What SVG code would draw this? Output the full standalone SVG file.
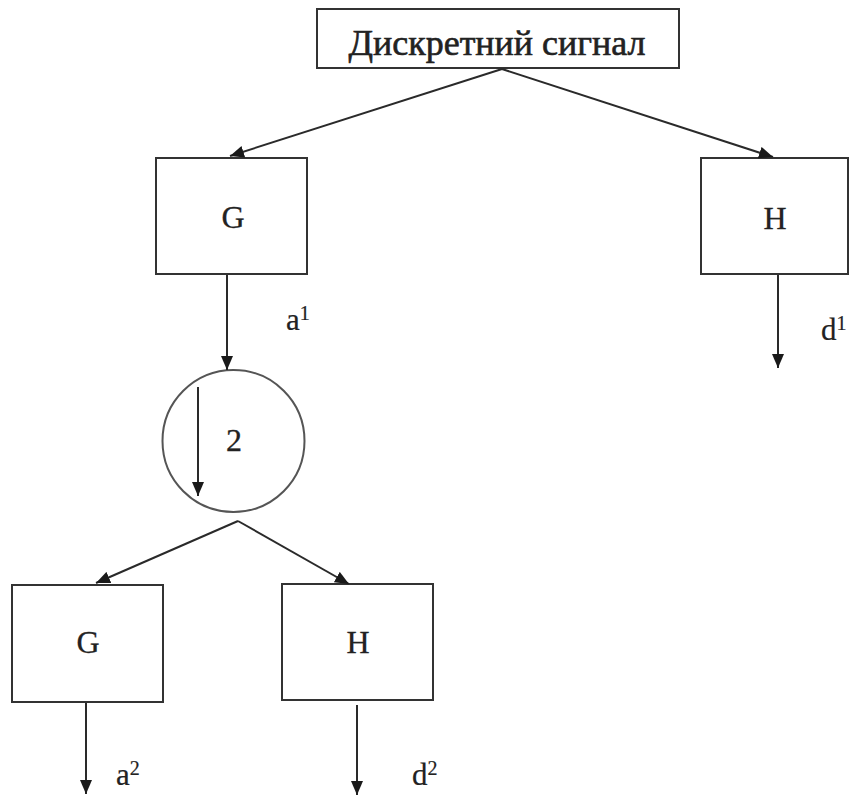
<svg xmlns="http://www.w3.org/2000/svg" width="850" height="796" viewBox="0 0 850 796">
  <defs>
    <marker id="arrow" markerWidth="14" markerHeight="12" refX="14" refY="6" orient="auto" markerUnits="userSpaceOnUse">
      <path d="M0,0 L14,6 L0,12 Z" fill="#1a1a1a"/>
    </marker>
    <style>
      .box { fill: #fff; stroke: #333; stroke-width: 2; }
      .ring { fill: #fff; stroke: #555; stroke-width: 2; }
      .edge { fill: none; stroke: #2a2a2a; stroke-width: 2; marker-end: url(#arrow); }
      .label { font-family: "Liberation Serif", "Times New Roman", serif; fill: #222; text-anchor: middle; }
      .big { font-size: 32px; stroke: #222; stroke-width: 0.3; }
      .title { font-size: 36px; stroke: #222; stroke-width: 0.6; }
      .side { font-family: "Liberation Serif", "Times New Roman", serif; fill: #222; font-size: 31px; stroke: #222; stroke-width: 0.2; }
      .sup { font-size: 20px; }
    </style>
  </defs>
  <rect width="850" height="796" fill="#fff"/>

  <!-- source -->
  <g id="signal">
    <rect class="box" x="317" y="9" width="362" height="59"/>
    <text class="label title" x="497" y="55" textLength="297" lengthAdjust="spacingAndGlyphs">Дискретний сигнал</text>
  </g>

  <!-- level 1 -->
  <g id="g1">
    <rect class="box" x="156" y="158" width="151" height="116"/>
    <text class="label big" x="233" y="228">G</text>
  </g>
  <g id="h1">
    <rect class="box" x="701" y="158" width="147" height="116"/>
    <text class="label big" x="775" y="229">H</text>
  </g>
  <g id="a1-label">
    <text class="side" x="286" y="330">a<tspan class="sup" dy="-10">1</tspan></text>
  </g>
  <g id="d1-label">
    <text class="side" x="821" y="340">d<tspan class="sup" dy="-10">1</tspan></text>
  </g>

  <!-- downsampler -->
  <g id="down2">
    <circle class="ring" cx="233.5" cy="441" r="71"/>
    <text class="label big" x="234" y="451">2</text>
  </g>

  <!-- level 2 -->
  <g id="g2">
    <rect class="box" x="12" y="585" width="151" height="117"/>
    <text class="label big" x="88" y="653">G</text>
  </g>
  <g id="h2">
    <rect class="box" x="282" y="584" width="151" height="116"/>
    <text class="label big" x="358" y="653">H</text>
  </g>
  <g id="a2-label">
    <text class="side" x="116" y="785">a<tspan class="sup" dy="-10">2</tspan></text>
  </g>
  <g id="d2-label">
    <text class="side" x="412" y="785">d<tspan class="sup" dy="-10">2</tspan></text>
  </g>

  <!-- connectors -->
  <g id="connectors">
    <line class="edge" x1="502" y1="69" x2="230" y2="156"/>
    <line class="edge" x1="502" y1="69" x2="773" y2="157"/>
    <line class="edge" x1="227" y1="275" x2="227" y2="370"/>
    <line class="edge" x1="778" y1="275" x2="778" y2="368"/>
    <line class="edge" x1="198" y1="387" x2="198" y2="496"/>
    <line class="edge" x1="238" y1="521" x2="96" y2="583"/>
    <line class="edge" x1="238" y1="521" x2="349" y2="584"/>
    <line class="edge" x1="86" y1="703" x2="86" y2="794"/>
    <line class="edge" x1="357" y1="705" x2="357" y2="795"/>
  </g>
</svg>
